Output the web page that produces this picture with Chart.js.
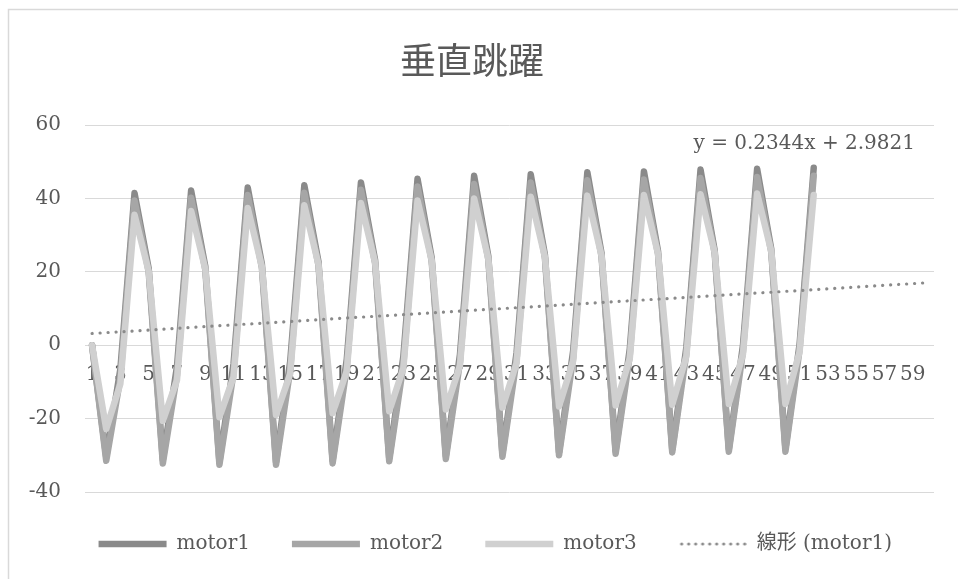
<!DOCTYPE html>
<html>
<head>
<meta charset="utf-8">
<script src="https://cdn.jsdelivr.net/npm/chart.js@4.4.1/dist/chart.umd.min.js"></script>
<style>
  body { margin: 0; background: #ffffff; }
</style>
</head>
<body>
<canvas id="jumpChart" width="958" height="579"></canvas>
<script>
// categories 1..60 on the x axis
const categories = [
  "1","2","3","4","5","6","7","8","9","10","11","12","13","14","15","16","17","18","19","20",
  "21","22","23","24","25","26","27","28","29","30","31","32","33","34","35","36","37","38","39","40",
  "41","42","43","44","45","46","47","48","49","50","51","52","53","54","55","56","57","58","59","60"
];

// series values (52 points each)
const motor1 = [
  0, -30.5, -6.5, 41.5, 21.0, -31.2, -5.8, 42.2, 21.6, -31.8, -5.0, 43.0, 22.2,
  -31.8, -4.5, 43.6, 22.8, -31.4, -3.8, 44.4, 23.3, -30.8, -3.0, 45.4, 23.9,
  -30.2, -2.5, 46.2, 24.4, -29.6, -2.0, 46.6, 24.8, -29.2, -1.5, 47.2, 25.2,
  -28.8, -1.0, 47.4, 25.6, -28.4, -0.5, 47.9, 25.9, -28.3, 0.0, 48.1, 26.2,
  -28.2, 0.3, 48.4
];
const motor2 = [
  0, -31.5, -9.0, 39.5, 20.0, -32.2, -8.2, 40.2, 20.6, -32.6, -7.5, 41.0, 21.2,
  -32.6, -6.8, 41.6, 21.8, -32.2, -6.0, 42.4, 22.4, -31.6, -5.3, 43.3, 23.0,
  -31.0, -4.6, 44.0, 23.5, -30.4, -4.0, 44.4, 24.0, -30.0, -3.4, 45.0, 24.4,
  -29.6, -2.8, 45.2, 24.8, -29.2, -2.2, 45.6, 25.1, -29.0, -1.7, 45.9, 25.4,
  -29.0, -1.2, 46.2
];
const motor3 = [
  0, -22.8, -10.5, 35.6, 20.2, -20.6, -9.5, 36.6, 20.8, -19.6, -8.6, 37.4, 21.4,
  -19.0, -7.8, 38.2, 22.0, -18.5, -7.0, 38.8, 22.6, -18.0, -6.2, 39.5, 23.1,
  -17.5, -5.5, 40.0, 23.6, -17.0, -4.8, 40.5, 24.1, -16.7, -4.2, 40.8, 24.5,
  -16.4, -3.6, 41.0, 24.9, -16.2, -3.0, 41.2, 25.3, -16.0, -2.4, 41.4, 25.6,
  -16.0, -1.8, 41.0
];

// linear trendline printed on the chart (motor1)
const trendSlope = 0.2344;
const trendIntercept = 2.9821;
const trendLabel = "y = 0.2344x + 2.9821";

const yTicks = [-40, -20, 0, 20, 40, 60];

// only the two end points of the trendline, the line spans the gap
const trend = categories.map((c, i) =>
  i === 0 || i === categories.length - 1 ? trendSlope * Number(c) + trendIntercept : null
);

const textColor = "#595959";
const serif = "'DejaVu Serif', 'Liberation Serif', 'Noto Sans CJK JP', serif";
const trendColor = "#8a8a8a";

// dotted sample for the trendline legend entry
const dotSample = document.createElement("canvas");
dotSample.width = 68;
dotSample.height = 6;
(function () {
  const c = dotSample.getContext("2d");
  c.fillStyle = trendColor;
  for (let x = 3; x < 68; x += 7) {
    c.beginPath();
    c.arc(x, 3, 1.6, 0, Math.PI * 2);
    c.fill();
  }
})();

// light frame round the chart, cut off at right and bottom like the picture
const framePlugin = {
  id: "frame",
  beforeDraw(chart) {
    const ctx = chart.ctx;
    ctx.save();
    ctx.fillStyle = "#ffffff";
    ctx.fillRect(0, 0, chart.width, chart.height);
    ctx.strokeStyle = "#d9d9d9";
    ctx.lineWidth = 1.5;
    ctx.strokeRect(8.5, 9.5, 1200, 1200);
    ctx.restore();
  },
};

// trendline equation text
const equationPlugin = {
  id: "equation",
  afterDatasetsDraw(chart) {
    const ctx = chart.ctx;
    const y = chart.scales.y.getPixelForValue(55);
    ctx.save();
    ctx.font = "20px " + serif;
    ctx.fillStyle = textColor;
    ctx.textAlign = "right";
    ctx.textBaseline = "middle";
    ctx.fillText(trendLabel, chart.chartArea.right - 19, y);
    ctx.restore();
  },
};

const lineStyle = {
  borderWidth: 6.5,
  pointRadius: 0,
  pointHoverRadius: 0,
  tension: 0,
  fill: false,
  borderJoinStyle: "round",
  borderCapStyle: "round",
};

new Chart(document.getElementById("jumpChart").getContext("2d"), {
  type: "line",
  data: {
    labels: categories,
    datasets: [
      { label: "motor1", data: motor1, borderColor: "#8a8a8a", backgroundColor: "#8a8a8a", order: 3, ...lineStyle },
      { label: "motor2", data: motor2, borderColor: "#a6a6a6", backgroundColor: "#a6a6a6", order: 2, ...lineStyle },
      { label: "motor3", data: motor3, borderColor: "#d0d0d0", backgroundColor: "#d0d0d0", order: 1, ...lineStyle },
      {
        label: "線形 (motor1)",
        data: trend,
        borderColor: trendColor,
        backgroundColor: trendColor,
        borderWidth: 3.2,
        borderDash: [0.1, 7.9],
        borderCapStyle: "round",
        pointRadius: 0,
        spanGaps: true,
        fill: false,
        order: 0,
      },
    ],
  },
  options: {
    responsive: false,
    animation: false,
    layout: { padding: { left: 10, right: 24, top: 0, bottom: 15 } },
    scales: {
      x: {
        position: { y: 0 },
        offset: true,
        grid: { display: false, drawTicks: false },
        border: { display: false },
        ticks: {
          autoSkip: false,
          maxRotation: 0,
          minRotation: 0,
          padding: 18,
          color: textColor,
          font: { family: serif, size: 20 },
          callback: function (val, i) {
            return i % 2 === 0 ? categories[i] : "";
          },
        },
      },
      y: {
        min: yTicks[0],
        max: yTicks[yTicks.length - 1],
        afterBuildTicks: (scale) => {
          scale.ticks = yTicks.map((v) => ({ value: v }));
        },
        afterFit: (scale) => {
          scale.width = 75;
        },
        grid: { color: "#d9d9d9", lineWidth: 1, drawTicks: false },
        border: { display: false },
        ticks: {
          padding: 24,
          color: textColor,
          font: { family: serif, size: 20 },
        },
      },
    },
    plugins: {
      title: {
        display: true,
        text: "垂直跳躍",
        color: textColor,
        font: { family: "'Noto Sans CJK JP', sans-serif", size: 36, weight: "normal" },
        padding: { top: 39, bottom: 43 },
      },
      legend: {
        position: "bottom",
        align: "end",
        labels: {
          usePointStyle: true,
          pointStyle: "line",
          pointStyleWidth: 68,
          padding: 42,
          color: textColor,
          font: { family: serif, size: 20 },
          sort: (a, b) => a.datasetIndex - b.datasetIndex,
          generateLabels: (chart) => {
            const items = Chart.defaults.plugins.legend.labels.generateLabels(chart);
            items.forEach((item) => {
              if (item.datasetIndex === 3) item.pointStyle = dotSample;
            });
            return items;
          },
        },
      },
      tooltip: { enabled: false },
    },
  },
  plugins: [framePlugin, equationPlugin],
});
</script>
</body>
</html>
